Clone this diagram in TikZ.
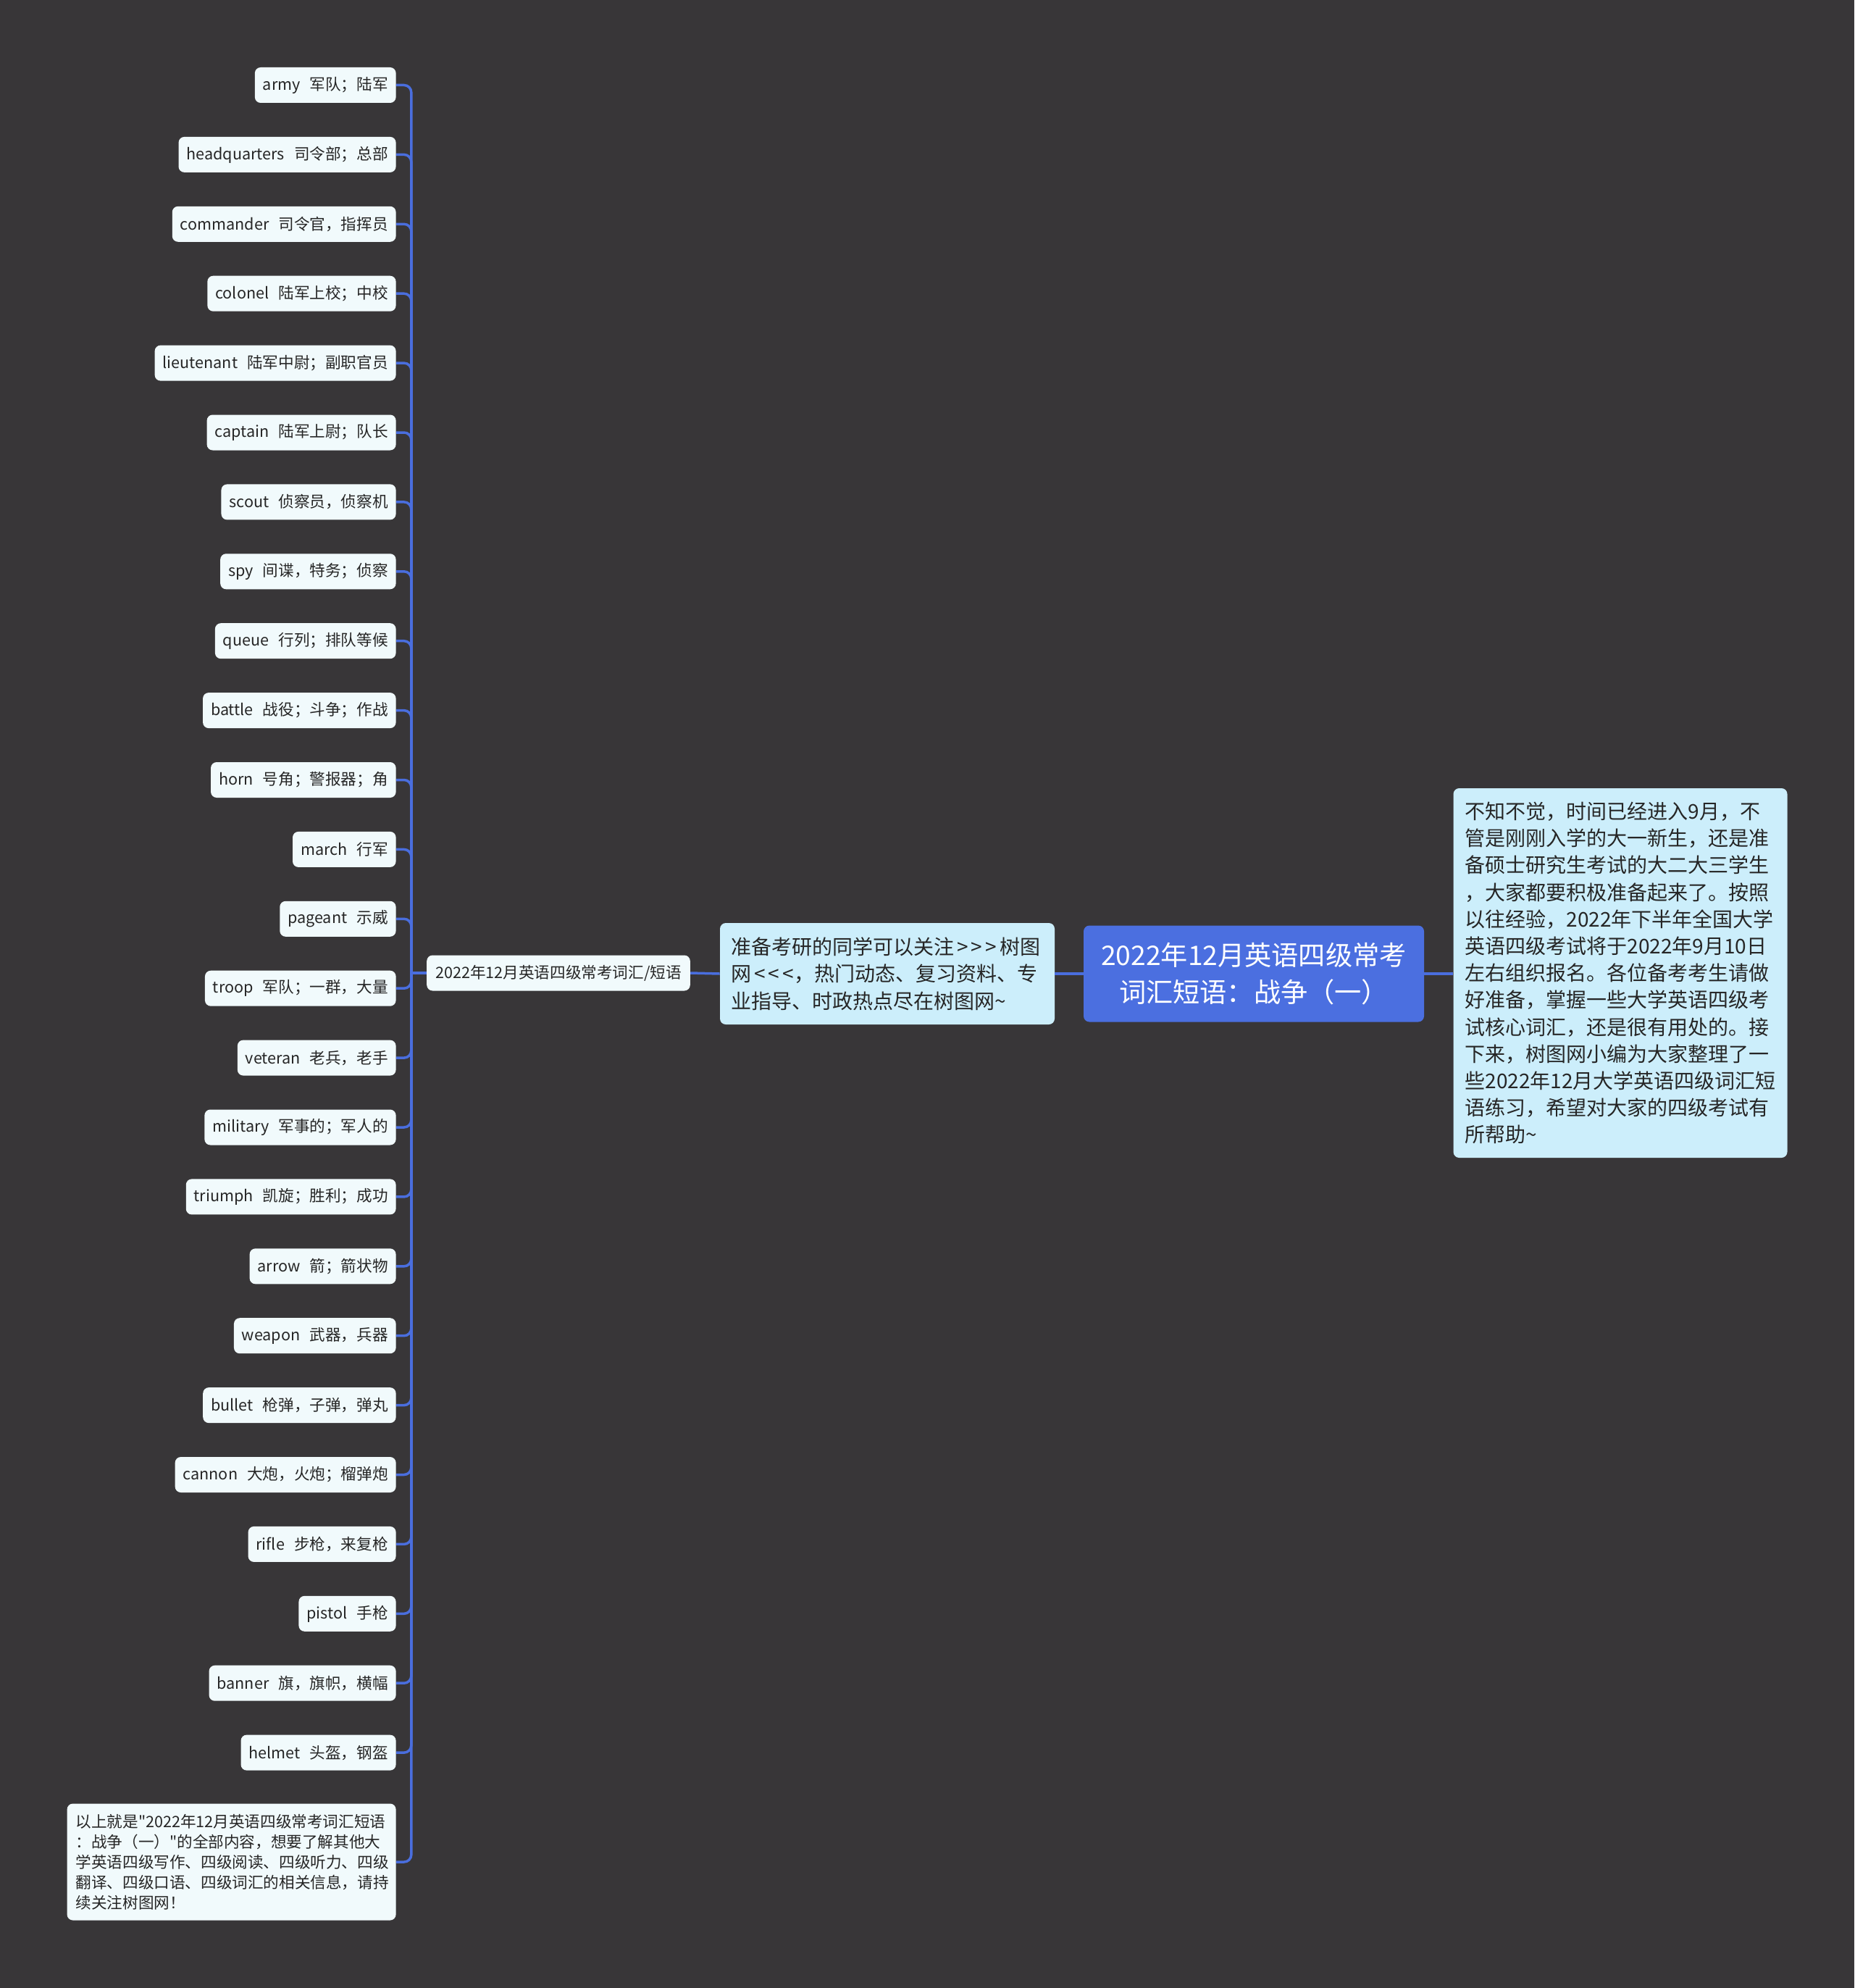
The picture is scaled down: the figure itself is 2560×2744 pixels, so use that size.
\documentclass[tikz,border=0pt]{standalone}
\usepackage{fontspec}
\setmainfont{Noto Sans CJK SC}[Ligatures=TeXOff]
\definecolor{bgdark}{HTML}{383638}
\definecolor{linkblue}{HTML}{4A6EDE}
\definecolor{leaffill}{HTML}{F1FAFC}
\definecolor{notefill}{HTML}{CCEEFB}
\definecolor{rootfill}{HTML}{4B6FE0}
\newcommand\gapkern{\kern0.15em}
\tikzset{
  link/.style={draw=linkblue, line width=1.75pt},
  leafbox/.style={fill=leaffill, rounded corners=4pt, text=black!85,
    font=\fontsize{10.8}{14}\selectfont, inner xsep=5.5pt, inner ysep=0pt,
    minimum height=24.5pt, anchor=east},
  catbox/.style={leafbox, anchor=center, inner xsep=6pt},
  notebox/.style={fill=notefill, rounded corners=4pt, text=black!85, align=left,
    font=\fontsize{14}{18.75}\selectfont, inner xsep=7.5pt, text width=216pt,
    minimum height=70pt},
  rootbox/.style={fill=rootfill, rounded corners=4pt, text=white, align=center,
    font=\fontsize{18.6}{25.4}\selectfont, minimum width=235pt, minimum height=66.5pt},
  infobox/.style={fill=notefill, rounded corners=4pt, text=black!85, align=left,
    font=\fontsize{14}{18.6}\selectfont, inner xsep=8pt, text width=214.5pt,
    minimum height=255pt},
  endbox/.style={leafbox, align=left, inner xsep=6pt, text width=215pt,
    minimum height=80.5pt}
}
\begin{document}
\begin{tikzpicture}[x=0.5pt, y=-0.5pt]
  \fill[bgdark] (0,0) rectangle (2560,2744);
  \useasboundingbox (0,0) rectangle (2560,2744);

  % centre of the map
  \node[rootbox] (root) at (1731,1344) {2022年12月英语四级常考\\词汇短语：战争（一）};
  \node[notebox] (note) at (1225,1344) {准备考研的同学可以关注\gapkern{}>\gapkern{}>\gapkern{}>\gapkern{}树图\\网\gapkern{}<\gapkern{}<\gapkern{}<，热门动态、复习资料、专\\业指导、时政热点尽在树图网\textasciitilde};
  \node[infobox] (info) at (2237,1343) {不知不觉，时间已经进入9月，不\\管是刚刚入学的大一新生，还是准\\备硕士研究生考试的大二大三学生\\，大家都要积极准备起来了。按照\\以往经验，2022年下半年全国大学\\英语四级考试将于2022年9月10日\\左右组织报名。各位备考考生请做\\好准备，掌握一些大学英语四级考\\试核心词汇，还是很有用处的。接\\下来，树图网小编为大家整理了一\\些2022年12月大学英语四级词汇短\\语练习，希望对大家的四级考试有\\所帮助\textasciitilde};
  \node[catbox] (cat) at (771,1343) {2022年12月英语四级常考词汇/短语};

  \draw[link] (cat.east) -- (note.west);
  \draw[link] (note.east) -- (root.west);
  \draw[link] (root.east) -- (info.west |- root.east);
  \draw[link] (cat.west) -- ++(-21,0) coordinate (hub);

  % word list
  \foreach \en/\zh [count=\i] in {army/军队；陆军, headquarters/司令部；总部,
      commander/司令官，指挥员, colonel/陆军上校；中校, lieutenant/陆军中尉；副职官员,
      captain/陆军上尉；队长, scout/侦察员，侦察机, spy/间谍，特务；侦察,
      queue/行列；排队等候, battle/战役；斗争；作战, horn/号角；警报器；角,
      march/行军, pageant/示威, troop/军队；一群，大量, veteran/老兵，老手,
      military/军事的；军人的, triumph/凯旋；胜利；成功, arrow/箭；箭状物,
      weapon/武器，兵器, bullet/枪弹，子弹，弹丸, cannon/大炮，火炮；榴弹炮,
      rifle/步枪，来复枪, pistol/手枪, banner/旗，旗帜，横幅, helmet/头盔，钢盔} {
    \pgfmathsetmacro\yy{117.5+95.9*(\i-1)}
    \node[leafbox] (leaf-\i) at (547,\yy) {\en\hspace{0.6em}\zh};
    \draw[link, rounded corners=5pt] (hub) |- (leaf-\i.east);
  }

  \node[endbox] (end) at (547,2570) {以上就是"2022年12月英语四级常考词汇短语\\：战争（一）"的全部内容，想要了解其他大\\学英语四级写作、四级阅读、四级听力、四级\\翻译、四级口语、四级词汇的相关信息，请持\\续关注树图网！};
  \draw[link, rounded corners=5pt] (hub) |- (end.east);
\end{tikzpicture}
\end{document}
